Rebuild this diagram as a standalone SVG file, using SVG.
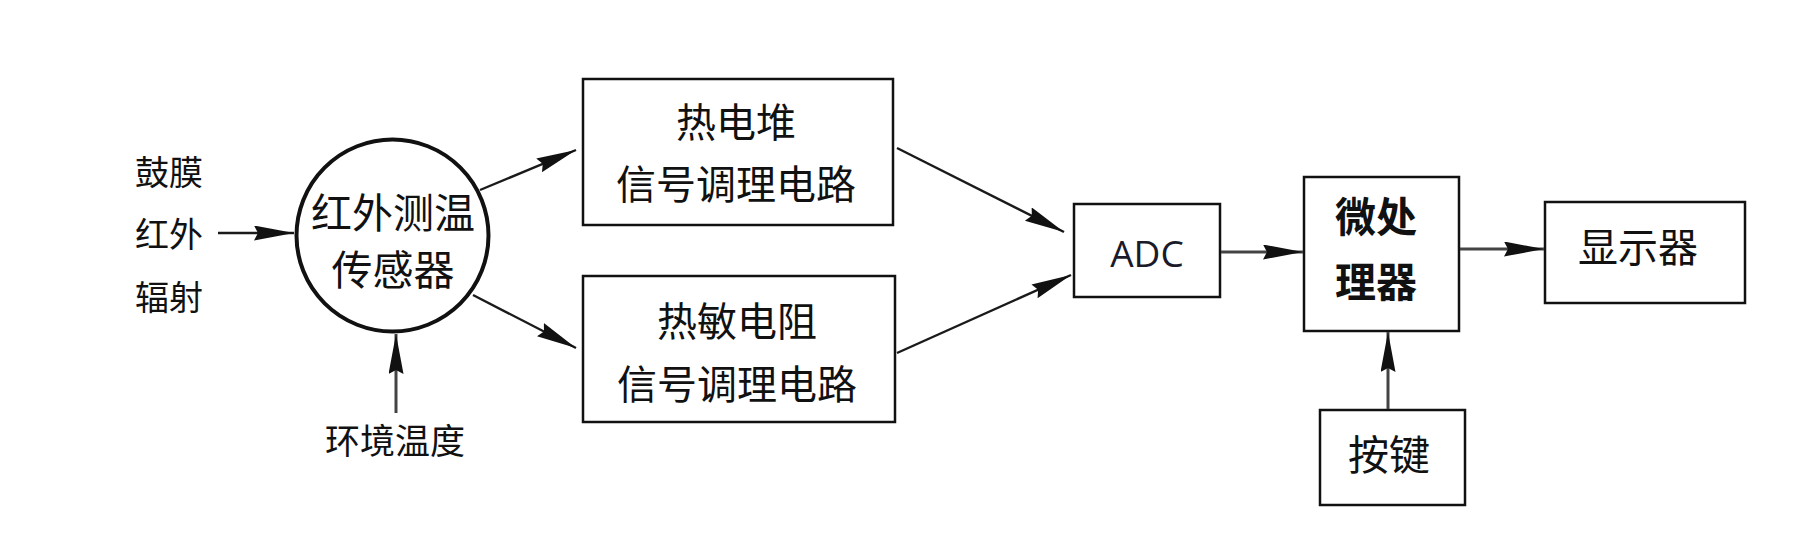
<svg xmlns="http://www.w3.org/2000/svg" width="1806" height="533" viewBox="0 0 1806 533">
<style>
.cjk{font-family:"Noto Sans CJK SC","Noto Sans",sans-serif;fill:#111;text-anchor:middle}
.box{fill:#fff;stroke:#111;stroke-width:2.5}
.ln{stroke:#1a1a1a;stroke-width:2.4;fill:none}
.ln2{stroke:#444;stroke-width:3;fill:none}
</style>
<defs>
<marker id="ah" markerUnits="userSpaceOnUse" markerWidth="42" markerHeight="16" refX="40" refY="7.5" orient="auto" viewBox="0 0 42 16">
<path d="M0,0 L40,7.5 L0,15 L4,7.5 z" fill="#111"/>
</marker>
</defs>
<rect width="1806" height="533" fill="#fff"/>
<g id="input-label">
<text class="cjk" x="169" y="185" font-size="34">鼓膜</text>
<text class="cjk" x="169" y="247" font-size="34">红外</text>
<text class="cjk" x="169" y="310" font-size="34">辐射</text>
</g>
<g id="ambient-label">
<text class="cjk" x="395" y="454" font-size="35">环境温度</text>
</g>
<g id="sensor">
<circle cx="392.5" cy="235.5" r="96" fill="#fff" stroke="#111" stroke-width="4"/>
<text class="cjk" x="393" y="228" font-size="41">红外测温</text>
<text class="cjk" x="393" y="285" font-size="41">传感器</text>
</g>
<g id="thermopile">
<rect class="box" x="583" y="79" width="310" height="146"/>
<text class="cjk" x="736" y="137" font-size="40">热电堆</text>
<text class="cjk" x="736" y="199" font-size="40">信号调理电路</text>
</g>
<g id="thermistor">
<rect class="box" x="583" y="276" width="312" height="146"/>
<text class="cjk" x="737" y="336" font-size="40">热敏电阻</text>
<text class="cjk" x="737" y="399" font-size="40">信号调理电路</text>
</g>
<g id="adc">
<rect class="box" x="1074" y="204" width="146" height="93"/>
<text x="1147" y="267" font-size="37" text-anchor="middle" fill="#1a1a2a" font-family="'Open Sans','Noto Sans',sans-serif">ADC</text>
</g>
<g id="mcu">
<rect class="box" x="1304" y="177" width="155" height="154"/>
<text class="cjk" x="1376" y="232" font-size="41" font-weight="bold">微处</text>
<text class="cjk" x="1376" y="297" font-size="41" font-weight="bold">理器</text>
</g>
<g id="display">
<rect class="box" x="1545" y="202" width="200" height="101"/>
<text class="cjk" x="1638" y="262" font-size="40">显示器</text>
</g>
<g id="keys">
<rect class="box" x="1320" y="410" width="145" height="95"/>
<text class="cjk" x="1389" y="470" font-size="41">按键</text>
</g>
<g id="connectors">
<line class="ln" x1="218" y1="233" x2="294" y2="233" marker-end="url(#ah)"/>
<line class="ln2" x1="396" y1="413" x2="396" y2="334" marker-end="url(#ah)"/>
<line class="ln" x1="480" y1="190" x2="576" y2="150" marker-end="url(#ah)"/>
<line class="ln" x1="473" y1="295" x2="576" y2="348" marker-end="url(#ah)"/>
<line class="ln" x1="897" y1="148" x2="1064" y2="232" marker-end="url(#ah)"/>
<line class="ln" x1="897" y1="353" x2="1071" y2="275" marker-end="url(#ah)"/>
<line class="ln2" x1="1221" y1="252" x2="1303" y2="252" marker-end="url(#ah)"/>
<line class="ln2" x1="1460" y1="249" x2="1544" y2="249" marker-end="url(#ah)"/>
<line class="ln2" x1="1388" y1="409" x2="1388" y2="332" marker-end="url(#ah)"/>
</g>
</svg>
